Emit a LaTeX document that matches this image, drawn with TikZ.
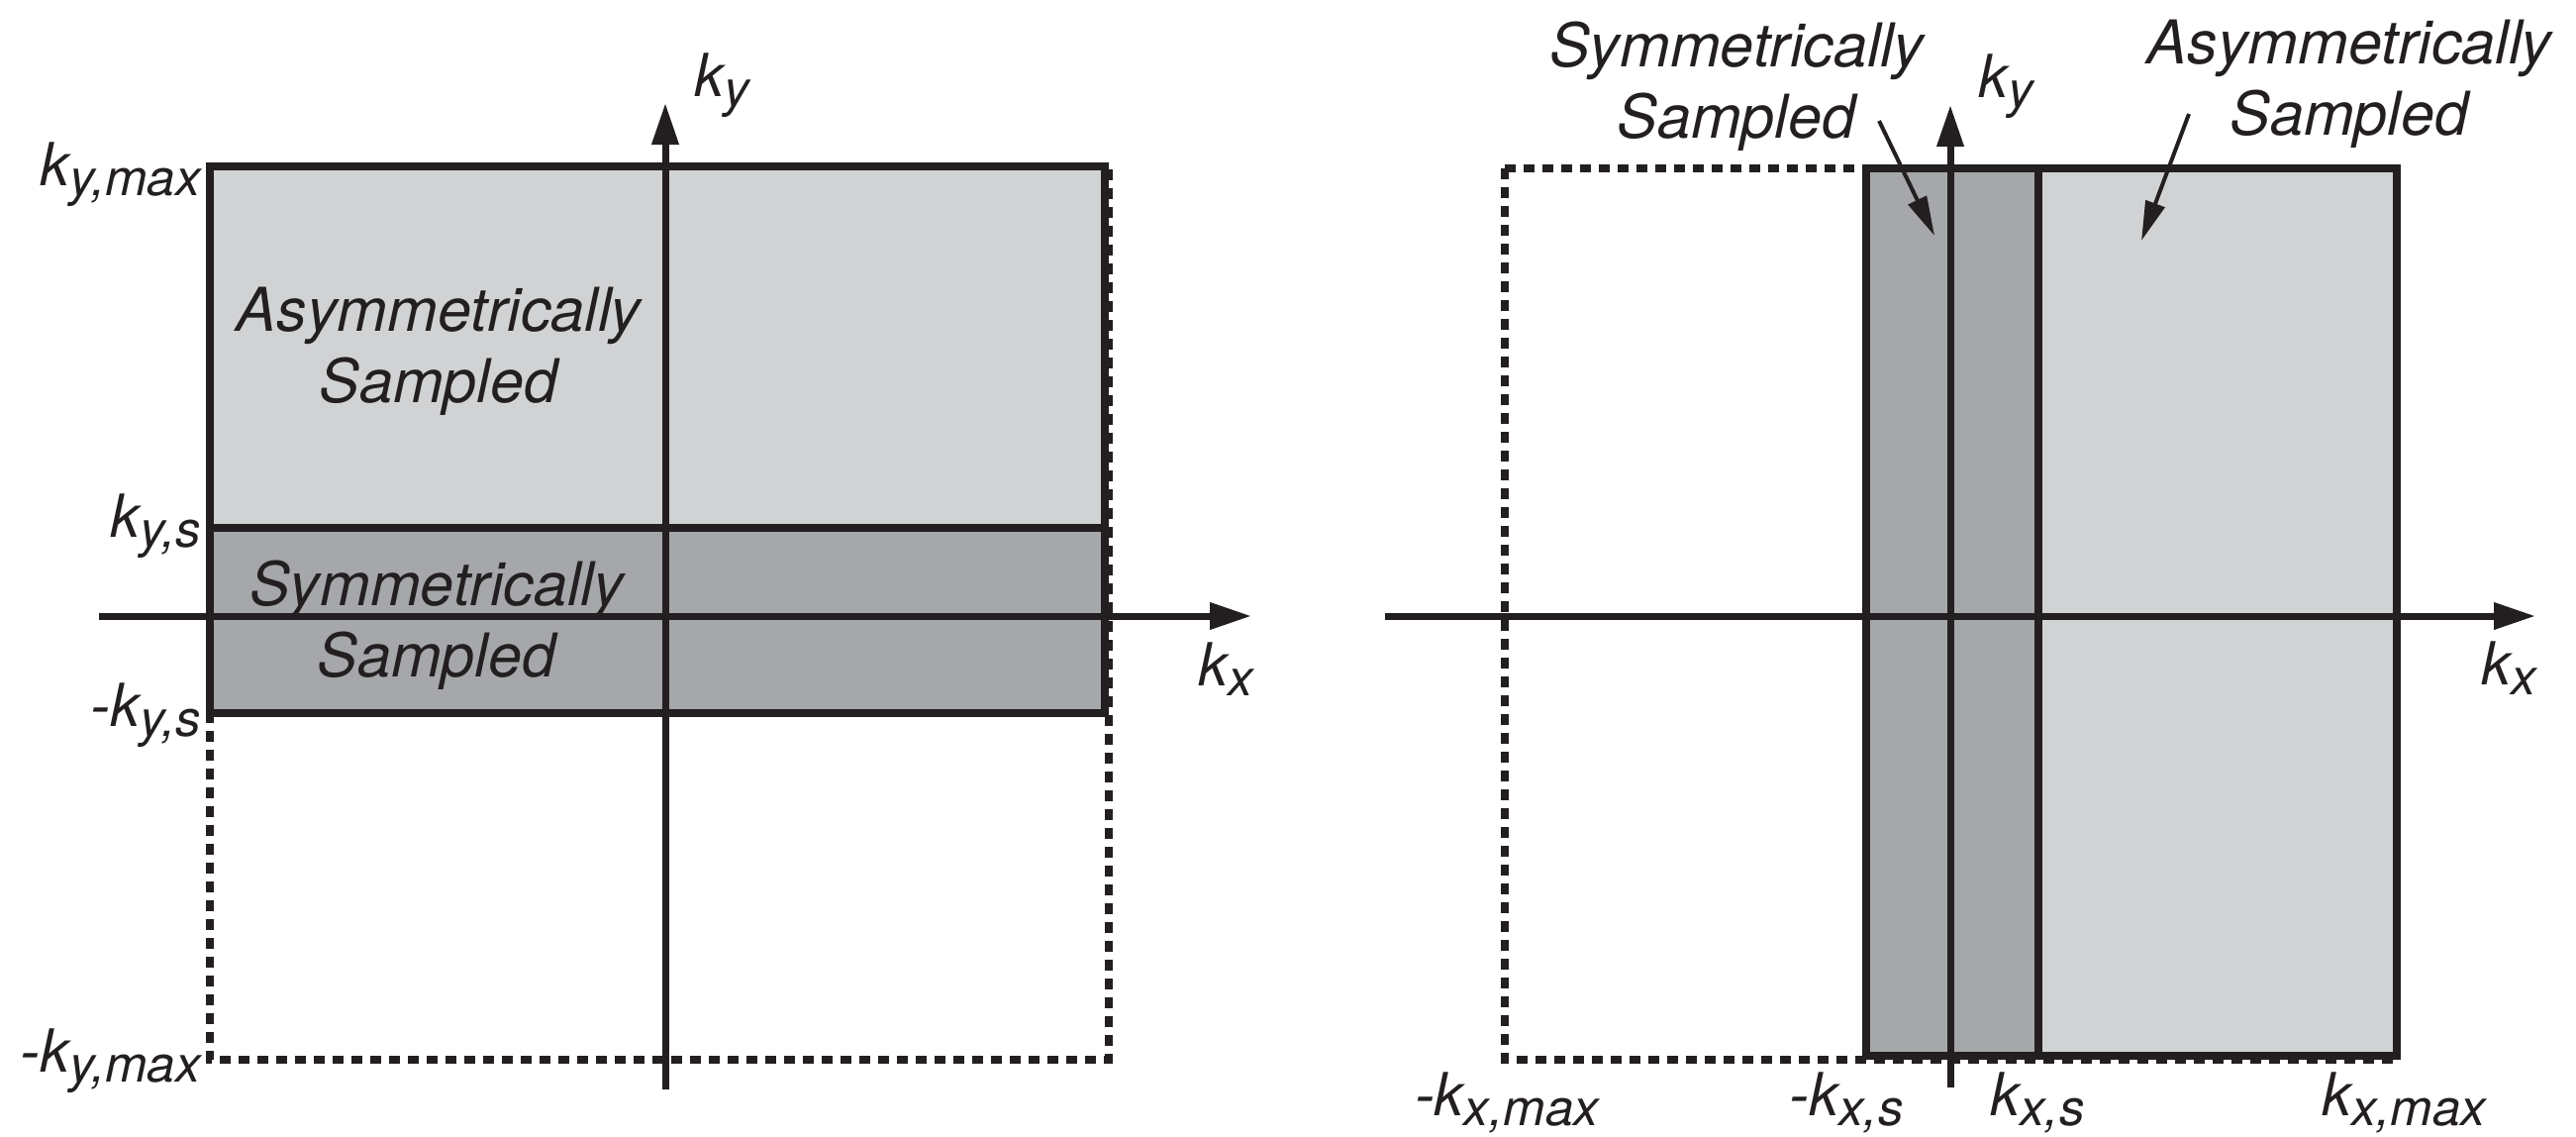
\documentclass[tikz,border=0pt]{standalone}
\usepackage{fontspec}
\setmainfont{TeX Gyre Heros}
\usetikzlibrary{arrows.meta}
\definecolor{ink}{HTML}{231F20}
\definecolor{lightg}{HTML}{D1D2D4}
\definecolor{darkg}{HTML}{A6A7AA}
\newcommand{\lblsub}[2]{#1\raisebox{-10pt}{\fontsize{51}{51}\selectfont #2}}
\begin{document}
\begin{tikzpicture}[x=1pt,y=-1pt,
  axis/.style={line width=7pt, draw=ink, -{Triangle[length=42pt,width=26pt]}},
  region/.style={line width=7.5pt, draw=ink},
  dashbox/.style={line width=7.5pt, draw=ink, dash pattern=on 11pt off 8pt},
  pointer/.style={line width=4pt, draw=ink, -{Triangle[length=40pt,width=20pt]}},
  lbl/.style={font=\fontsize{60}{60}\selectfont\itshape, text=ink, inner sep=0pt},
  txt/.style={font=\fontsize{61}{72}\selectfont\itshape, text=ink, inner sep=0pt, align=center}
]
\useasboundingbox (0,0) rectangle (2602,1148);

% ---------- left panel ----------
\fill[lightg] (212,168) rectangle (1116,533);
\fill[darkg] (212,533) rectangle (1116,720);
\draw[dashbox] (212,168) rectangle (1120,1070);
\draw[region] (212,168) rectangle (1116,720);
\draw[region] (212,533) -- (1116,533);

\coordinate (kxLs) at (100,622);
\coordinate (kxLe) at (1264,622);
\coordinate (kyLs) at (672,1100);
\coordinate (kyLe) at (672,104);
\draw[axis] (kxLs) -- (kxLe);
\draw[axis] (kyLs) -- (kyLe);

\node[lbl, anchor=base] (kxL) at (1238,692) {\lblsub{k}{x}};
\node[lbl, anchor=base] (kyL) at (729,97) {\lblsub{k}{y}};

\node[lbl, anchor=base east] (kymax) at (203,187) {\lblsub{k}{y,max}};
\node[lbl, anchor=base east] (kys) at (203,542) {\lblsub{k}{y,s}};
\node[lbl, anchor=base east] (mkys) at (203,733) {-\lblsub{k}{y,s}};
\node[lbl, anchor=base east] (mkymax) at (203,1082) {-\lblsub{k}{y,max}};

\node[txt] (asymL) at (443,355) {Asymmetrically\\Sampled};
\node[txt] (symL) at (441,631) {Symmetrically\\Sampled};

% ---------- right panel ----------
\fill[darkg] (1885,170) rectangle (2059,1066);
\fill[lightg] (2059,170) rectangle (2421,1066);
\draw[dashbox] (1520,170) rectangle (2421,1070);
\draw[region] (1885,170) rectangle (2421,1066);
\draw[region] (2059,170) -- (2059,1066);

\coordinate (kxRs) at (1399,622);
\coordinate (kxRe) at (2561,622);
\coordinate (kyRs) at (1970,1098);
\coordinate (kyRe) at (1970,106);
\draw[axis] (kxRs) -- (kxRe);
\draw[axis] (kyRs) -- (kyRe);

\node[lbl, anchor=base] (kxR) at (2534,691) {\lblsub{k}{x}};
\node[lbl, anchor=base] (kyR) at (2026,98) {\lblsub{k}{y}};

\node[lbl, anchor=base] (mkxmax) at (1522,1126) {-\lblsub{k}{x,max}};
\node[lbl, anchor=base] (mkxs) at (1865,1126) {-\lblsub{k}{x,s}};
\node[lbl, anchor=base] (kxs) at (2058,1126) {\lblsub{k}{x,s}};
\node[lbl, anchor=base] (kxmax) at (2428,1126) {\lblsub{k}{x,max}};

\node[txt] (symR) at (1754,87) {Symmetrically\\Sampled};
\node[txt] (asymR) at (2373,85) {Asymmetrically\\Sampled};

\coordinate (symTip) at (1954,238);
\coordinate (symStart) at (1898,122);
\coordinate (asymTip) at (2163,243);
\coordinate (asymStart) at (2211,115);
\draw[pointer] (symStart) -- (symTip);
\draw[pointer] (asymStart) -- (asymTip);
\end{tikzpicture}
\end{document}
